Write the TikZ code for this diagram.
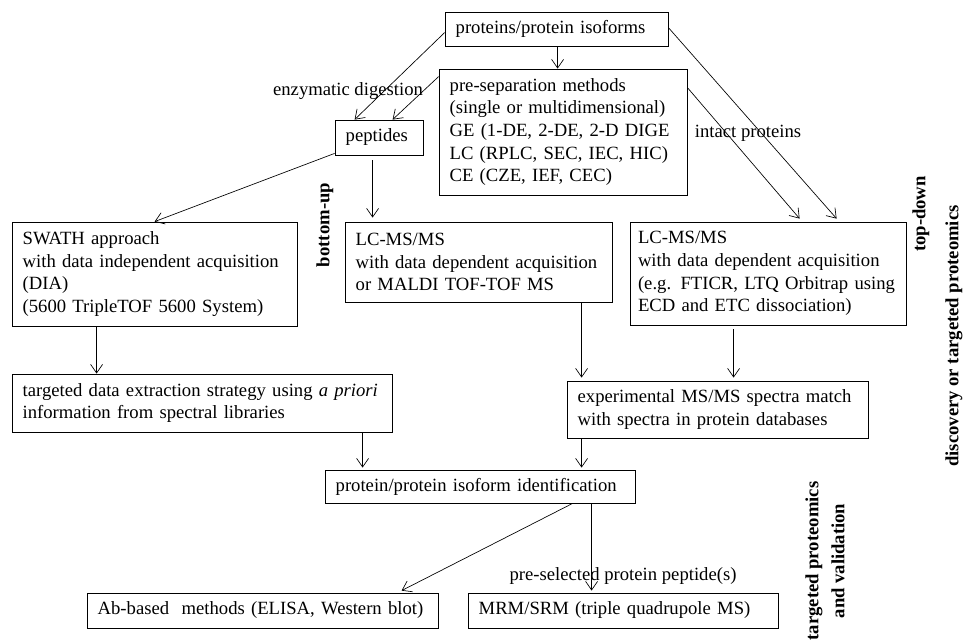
\documentclass[tikz,border=0pt]{standalone}
\usepackage{fontspec}
\setmainfont{Liberation Serif}
\usetikzlibrary{arrows.meta,calc}
\tikzset{
  box/.style={draw, line width=0.6pt, inner xsep=8pt, inner ysep=0pt, align=left,
    font=\fontsize{14}{17}\selectfont},
  lbl/.style={inner sep=0pt, font=\fontsize{14}{17}\selectfont},
  blbl/.style={inner sep=0pt, rotate=90, align=center, font=\fontsize{14}{19.5}\selectfont\bfseries},
  arr/.style={-{Straight Barb[length=6.5pt,width=9pt]}, line width=0.5pt},
}
\begin{document}
\begin{tikzpicture}[x=0.75pt,y=-0.75pt]
\useasboundingbox (0,0) rectangle (964,643);

\node[box, text width=151.25pt, minimum height=25.5pt] (prot) at (556.5,29) {proteins/protein isoforms};
\node[box, text width=170pt, minimum height=94.5pt] (presep) at (563,132)
  {pre-separation methods\\(single or multidimensional)\\GE (1-DE, 2-DE, 2-D DIGE\\LC (RPLC, SEC, IEC, HIC)\\CE (CZE, IEF, CEC)};
\node[box, text width=50pt, minimum height=26.25pt] (pept) at (379,137.5) {peptides};
\node[box, text width=197.75pt, minimum height=78pt] (swath) at (154.5,274)
  {SWATH approach\\with data independent acquisition\\(DIA)\\(5600 TripleTOF 5600 System)};
\node[box, text width=184.25pt, minimum height=60pt] (lcmid) at (478.5,262)
  {LC-MS/MS\\with data dependent acquisition\\or MALDI TOF-TOF MS};
\node[box, inner xsep=6pt, text width=195pt, minimum height=77.25pt] (lcright) at (768,273.5)
  {LC-MS/MS\\with data dependent acquisition\\(e.g. FTICR, LTQ Orbitrap using\\ECD and ETC dissociation)};
\node[box, text width=269pt, minimum height=43.5pt] (target) at (202,403)
  {targeted data extraction strategy using \textit{a priori}\\information from spectral libraries};
\node[box, text width=209.75pt, minimum height=42.75pt] (exper) at (717.5,409.5)
  {experimental MS/MS spectra match\\with spectra in protein databases};
\node[box, text width=216.5pt, minimum height=24.75pt] (ident) at (480,486.5)
  {protein/protein isoform identification};
\node[box, text width=247.25pt, minimum height=26.25pt] (ab) at (262.5,610.5)
  {Ab-based\ \ methods (ELISA, Western blot)};
\node[box, text width=216.5pt, minimum height=26.25pt] (mrm) at (623,610.5)
  {MRM/SRM (triple quadrupole MS)};

\node[lbl] (enz) at (348,91) {enzymatic digestion};
\node[lbl] (intact) at (748,133) {intact proteins};
\node[lbl] (presel) at (623,576) {pre-selected protein peptide(s)};
\node[blbl] (bu) at (325,225) {bottom-up};
\node[blbl] (td) at (921,214) {top-down};
\node[blbl] (disc) at (954,336) {discovery or targeted proteomics};
\node[blbl] (tpv) at (825,561) {targeted proteomics\\and validation};

\draw[arr] ($(prot.south west)+(113,0)$) -- ($(presep.north west)+(119,0)$);
\draw[arr] ($(prot.north west)+(0,21)$) -- ($(pept.north west)+(20,0)$);
\draw[arr] ($(presep.north west)+(0,8)$) -- ($(pept.north west)+(58,0)$);
\draw[arr] ($(pept.south west)+(0,-2)$) -- ($(swath.north west)+(143,0)$);
\draw[arr] ($(pept.south west)+(38,5)$) -- ($(lcmid.north west)+(28,-4)$);
\draw[arr] ($(presep.north east)+(0,19)$) -- ($(lcright.north west)+(170,-3)$);
\draw[arr] ($(prot.north east)+(0,16)$) -- ($(lcright.north west)+(207,-3)$);
\draw[arr] ($(swath.south west)+(85,0)$) -- ($(target.north west)+(85,0)$);
\draw[arr] ($(lcmid.south west)+(237,0)$) -- ($(exper.north west)+(15,-3)$);
\draw[arr] ($(lcright.south west)+(104,4)$) -- ($(exper.north west)+(167,-3)$);
\draw[arr] ($(target.south west)+(351,0)$) -- ($(ident.north west)+(38,-2)$);
\draw[arr] ($(exper.south west)+(15,0)$) -- ($(ident.north west)+(257,-2)$);
\draw[arr] ($(ident.south west)+(248,0)$) -- ($(ab.north west)+(315,-2)$);
\draw[arr] ($(ident.south west)+(267,0)$) -- ($(mrm.north west)+(124,-2)$);
\end{tikzpicture}
\end{document}
